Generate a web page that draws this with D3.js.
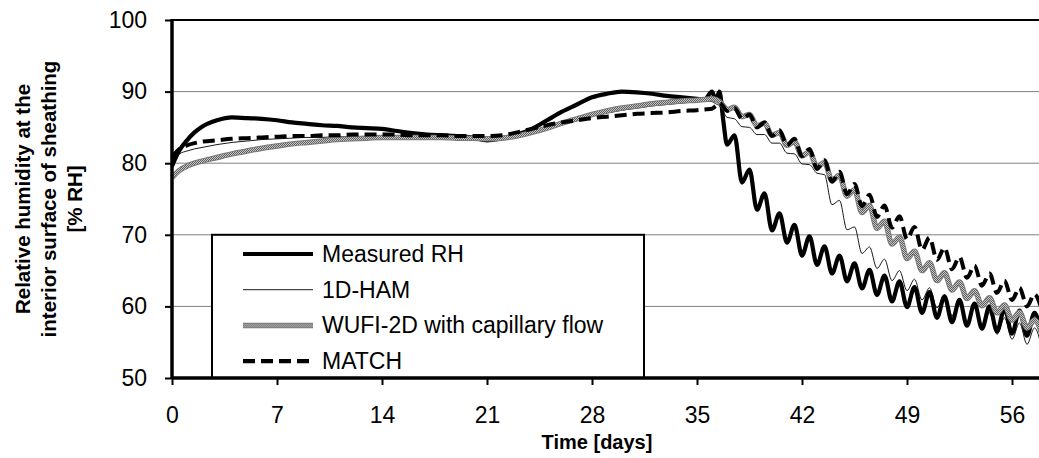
<!DOCTYPE html>
<html>
<head>
    <meta charset="utf-8" />
    <script src="https://cdn.jsdelivr.net/npm/d3@7/dist/d3.min.js"></script>
    <style>
        body { margin: 0; background: #fff; }
        text { font-family: "Liberation Sans", Arial, sans-serif; }
    </style>
</head>
<body>
</body>
<script>
    // time axis (days) - finer steps where the curves oscillate daily
    var days = [0, 0.5, 1, 1.5, 2, 3, 4, 5, 6, 7, 8, 9, 10, 11, 12, 13, 14, 15, 16, 17, 18, 19, 20,
        21, 22, 23, 24, 25, 26, 27, 28, 29, 30, 31, 32, 33, 34, 35,
        35.5, 36, 36.25, 36.5, 36.75,
        37, 37.5, 38, 38.5, 39, 39.5, 40, 40.5, 41, 41.5, 42, 42.5, 43, 43.5, 44, 44.5, 45, 45.5,
        46, 46.5, 47, 47.5, 48, 48.5, 49, 49.5, 50, 50.5, 51, 51.5, 52, 52.5, 53, 53.5, 54, 54.5,
        55, 55.5, 56, 56.5, 57, 57.5, 58];

    var measuredRH = [79.6, 81.8, 83.2, 84.3, 85.1, 86.0, 86.4, 86.3, 86.2, 86.0, 85.7, 85.5, 85.3, 85.2, 85.0, 84.9, 84.8, 84.5, 84.2, 84.0, 83.9, 83.8, 83.6,
        83.2, 83.5, 84.0, 84.8, 86.0, 87.2, 88.2, 89.2, 89.7, 90.0, 89.9, 89.7, 89.4, 89.2, 89.0,
        88.9, 90.0, 88.8, 90.0, 86.0,
        82.6, 83.9, 77.3, 79.1, 73.5, 75.8, 70.6, 73.0, 68.9, 71.4, 67.1, 69.8, 65.8, 68.4, 64.6, 67.1, 63.5, 66.0,
        62.5, 65.1, 61.6, 64.3, 60.7, 63.5, 59.9, 62.7, 59.1, 62.0, 58.4, 61.4, 57.8, 60.9, 57.3, 60.4, 56.9, 60.0,
        56.5, 59.7, 56.2, 59.4, 55.9, 59.1, 55.7];

    var ham1D = [80.0, 81.3, 81.7, 82.0, 82.2, 82.6, 82.9, 83.1, 83.3, 83.4, 83.5, 83.6, 83.6, 83.7, 83.7, 83.7, 83.7, 83.7, 83.7, 83.7, 83.6, 83.6, 83.6,
        83.5, 83.6, 83.9, 84.4, 85.0, 85.6, 86.1, 86.6, 87.0, 87.4, 87.7, 88.0, 88.2, 88.4, 88.6,
        88.7, 88.6, 88.3, 88.0, 87.2,
        86.4, 86.2, 85.1, 85.0, 84.0, 84.0, 82.8, 82.8, 81.4, 81.3, 79.9, 79.8, 78.6, 78.4, 74.2, 74.8, 70.7, 71.1,
        67.4, 68.3, 65.3, 66.6, 63.6, 65.0, 62.2, 63.8, 60.9, 62.6, 59.8, 61.6, 58.7, 60.7, 57.8, 59.9, 56.9, 59.1,
        56.1, 58.4, 55.4, 57.7, 54.7, 57.0, 54.0];

    var wufi2D = [78.0, 79.0, 79.6, 80.0, 80.3, 80.8, 81.3, 81.7, 82.1, 82.4, 82.7, 82.9, 83.1, 83.3, 83.4, 83.5, 83.6, 83.6, 83.6, 83.6, 83.6, 83.5, 83.5,
        83.4, 83.5, 83.8, 84.3, 84.9, 85.6, 86.2, 86.8, 87.3, 87.7, 88.0, 88.3, 88.5, 88.7, 88.8,
        88.9, 89.0, 88.9, 88.6, 88.0,
        87.5, 87.8, 86.5, 86.8, 85.2, 85.6, 83.9, 84.3, 82.5, 83.0, 81.0, 81.6, 79.5, 80.1, 77.6, 78.3, 75.4, 76.3,
        73.1, 74.1, 70.9, 71.9, 68.7, 69.7, 66.7, 67.7, 65.0, 66.1, 63.6, 64.7, 62.3, 63.4, 61.1, 62.2, 60.1, 61.2,
        59.1, 60.2, 58.1, 59.2, 57.0, 58.1, 56.2];

    var matchRH = [80.8, 82.0, 82.5, 82.8, 83.0, 83.2, 83.4, 83.5, 83.6, 83.7, 83.8, 83.8, 83.9, 83.9, 84.0, 84.0, 84.0, 84.0, 83.9, 83.9, 83.9, 83.8, 83.8,
        83.8, 83.9, 84.3, 84.8, 85.3, 85.7, 86.0, 86.3, 86.5, 86.7, 86.9, 87.0, 87.1, 87.3, 87.4,
        87.5, 87.6, 88.0, 88.4, 87.9,
        87.3, 87.7, 86.2, 86.8, 85.0, 85.7, 83.8, 84.6, 82.5, 83.4, 81.0, 82.0, 79.2, 80.4, 77.4, 78.8, 75.7, 77.1,
        74.0, 75.6, 72.5, 74.1, 71.0, 72.6, 69.4, 71.1, 67.9, 69.6, 66.5, 68.2, 65.2, 66.9, 64.0, 65.7, 62.9, 64.6,
        61.9, 63.6, 60.9, 62.6, 60.0, 61.7, 59.4];

    var xTicks = [0, 7, 14, 21, 28, 35, 42, 49, 56];
    var yTicks = [50, 60, 70, 80, 90, 100];
    var seriesNames = ["Measured RH", "1D-HAM", "WUFI-2D with capillary flow", "MATCH"];

    var W = 1039, H = 458;
    var padLeft = 172, padTop = 20, axisY = 378;

    var svg = d3.select("body").append("svg")
        .attr("width", W)
        .attr("height", H);

    // checkered grey texture for the WUFI line
    var pat = svg.append("defs").append("pattern")
        .attr("id", "checks")
        .attr("patternUnits", "userSpaceOnUse")
        .attr("width", 2).attr("height", 2);
    pat.append("rect").attr("width", 2).attr("height", 2).attr("fill", "#c8c8c8");
    pat.append("rect").attr("width", 1).attr("height", 1).attr("fill", "#5e5e5e");
    pat.append("rect").attr("x", 1).attr("y", 1).attr("width", 1).attr("height", 1).attr("fill", "#5e5e5e");

    var x = d3.scaleLinear().domain([0, 58]).range([padLeft, padLeft + 58 * 15]);
    var y = d3.scaleLinear().domain([50, 100]).range([axisY, padTop]);

    // grid lines
    svg.append("g").selectAll("line")
        .data([60, 70, 80, 90])
        .enter().append("line")
        .attr("x1", padLeft).attr("x2", W)
        .attr("y1", function (d) { return y(d); })
        .attr("y2", function (d) { return y(d); })
        .attr("stroke", "#808080")
        .attr("stroke-width", 1);

    // top border of the plot area
    svg.append("line")
        .attr("x1", padLeft).attr("x2", W)
        .attr("y1", y(100)).attr("y2", y(100))
        .attr("stroke", "#000").attr("stroke-width", 2);

    var lineGen = function (vals) {
        return d3.line()
            .x(function (d, i) { return x(days[i]); })
            .y(function (d) { return y(d); })
            .curve(d3.curveMonotoneX)(vals);
    };

    var plot = svg.append("g");

    plot.append("path").attr("d", lineGen(measuredRH))
        .attr("fill", "none").attr("stroke", "#000").attr("stroke-width", 4.2)
        .attr("stroke-linejoin", "round");
    plot.append("path").attr("d", lineGen(ham1D))
        .attr("fill", "none").attr("stroke", "#000").attr("stroke-width", 0.9);
    plot.append("path").attr("d", lineGen(wufi2D))
        .attr("fill", "none").attr("stroke", "#7a7a7a").attr("stroke-width", 5.5);
    plot.append("path").attr("d", lineGen(wufi2D))
        .attr("fill", "none").attr("stroke", "url(#checks)").attr("stroke-width", 3.5);
    plot.append("path").attr("d", lineGen(matchRH))
        .attr("fill", "none").attr("stroke", "#000").attr("stroke-width", 4)
        .attr("stroke-dasharray", "12,6");

    // legend box
    var lg = svg.append("g");
    lg.append("rect")
        .attr("x", 212).attr("y", y(70))
        .attr("width", 432).attr("height", axisY - y(70))
        .attr("fill", "#fff").attr("stroke", "#000").attr("stroke-width", 2);

    var rows = lg.selectAll("g.item")
        .data(seriesNames)
        .enter().append("g")
        .attr("class", "item")
        .attr("transform", function (d, i) { return "translate(243," + (254 + i * 35.7) + ")"; });

    rows.each(function (d, i) {
        var g = d3.select(this);
        if (i === 2) {
            g.append("line").attr("x1", 0).attr("x2", 70)
                .attr("stroke", "#7a7a7a").attr("stroke-width", 5.5);
            g.append("line").attr("x1", 0).attr("x2", 70)
                .attr("stroke", "url(#checks)").attr("stroke-width", 3.5);
        } else {
            g.append("line").attr("x1", 0).attr("x2", 70)
                .attr("stroke", "#000")
                .attr("stroke-width", i === 1 ? 0.9 : 4.2)
                .attr("stroke-dasharray", i === 3 ? "12,6" : null);
        }
        g.append("text")
            .attr("x", 79).attr("y", 8)
            .attr("font-size", "23px")
            .text(d);
    });

    // axes
    var xAxis = svg.append("g")
        .attr("transform", "translate(0," + axisY + ")")
        .call(d3.axisBottom(x).tickValues(xTicks).tickSize(7).tickPadding(22));
    xAxis.select(".domain").remove();
    xAxis.append("line").attr("x1", padLeft).attr("x2", W)
        .attr("stroke", "#000").attr("stroke-width", 3.5);
    xAxis.selectAll(".tick line").attr("stroke-width", 2);

    var yAxis = svg.append("g")
        .attr("transform", "translate(" + padLeft + ",0)")
        .call(d3.axisLeft(y).tickValues(yTicks).tickSize(7).tickPadding(18));
    yAxis.select(".domain").remove();
    yAxis.append("line").attr("y1", padTop - 1).attr("y2", axisY + 1)
        .attr("stroke", "#000").attr("stroke-width", 3.5);
    yAxis.selectAll(".tick line").attr("stroke-width", 2);

    svg.selectAll(".tick text")
        .attr("font-family", "Liberation Sans, Arial, sans-serif")
        .attr("font-size", "23px")
        .attr("fill", "#000");

    // axis titles
    svg.append("text")
        .attr("x", 597).attr("y", 449)
        .attr("text-anchor", "middle")
        .attr("font-weight", "bold")
        .attr("font-size", "20px")
        .text("Time [days]");

    var yTitle = ["Relative humidity at the", "interior surface of sheathing", "[% RH]"];
    svg.append("g")
        .selectAll("text")
        .data(yTitle)
        .enter().append("text")
        .attr("transform", function (d, i) { return "translate(" + (30 + i * 26) + "," + 199 + ") rotate(-90)"; })
        .attr("text-anchor", "middle")
        .attr("font-weight", "bold")
        .attr("font-size", "20.5px")
        .text(function (d) { return d; });
</script>
</html>
